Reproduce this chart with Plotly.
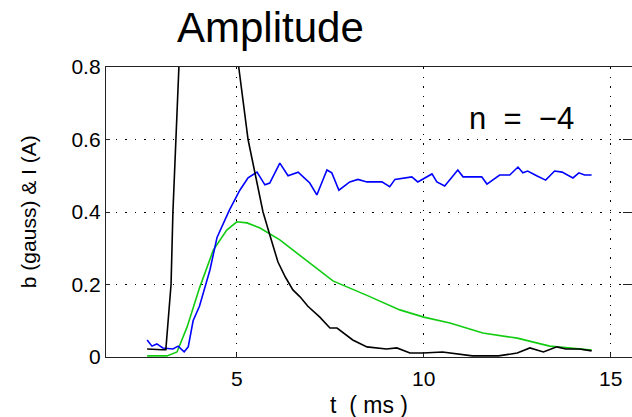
import plotly.graph_objects as go

# ---- data ----
black_t = [2.6, 2.8, 3.0, 3.1, 3.24, 3.29, 3.37, 3.45, 3.7, 4.2, 4.7, 5.05, 5.3, 5.48, 5.7,
           5.88, 6.1, 6.3, 6.5, 6.69, 6.9, 7.22, 7.49, 7.68, 8.1, 8.48, 9.0, 9.28, 9.63,
           9.98, 10.5, 11.3, 12.0, 12.5, 12.84, 13.2, 13.56, 13.8, 14.17, 14.49]
black_v = [0.022, 0.02, 0.02, 0.02, 0.2, 0.4, 0.6, 0.8, 1.2, 1.5, 1.2, 0.8, 0.6, 0.508, 0.4,
           0.337, 0.262, 0.22, 0.185, 0.166, 0.14, 0.11, 0.08, 0.08, 0.047, 0.028, 0.022, 0.025, 0.011,
           0.011, 0.014, 0.003, 0.003, 0.011, 0.025, 0.014, 0.028, 0.022, 0.022, 0.017]

blue_t = [2.6, 2.73, 2.86, 3.02, 3.29, 3.43, 3.59, 3.7, 3.83, 4.0, 4.28, 4.47, 4.8, 5.08,
          5.3, 5.54, 5.75, 5.88, 6.15, 6.37, 6.64, 6.95, 7.14, 7.41, 7.54, 7.73, 8.02, 8.24,
          8.48, 8.88, 9.09, 9.23, 9.68, 9.84, 10.22, 10.35, 10.56, 10.91, 11.05, 11.55, 11.69,
          12.03, 12.3, 12.52, 12.65, 12.78, 13.02, 13.26, 13.5, 13.7, 13.99, 14.15, 14.3, 14.49]
blue_v = [0.047, 0.030, 0.036, 0.025, 0.022, 0.030, 0.014, 0.028, 0.10, 0.14, 0.24, 0.33, 0.405, 0.46,
          0.494, 0.51, 0.475, 0.48, 0.535, 0.50, 0.51, 0.48, 0.447, 0.516, 0.508, 0.46, 0.483, 0.49,
          0.483, 0.483, 0.47, 0.49, 0.497, 0.483, 0.505, 0.483, 0.472, 0.516, 0.497, 0.497, 0.477,
          0.502, 0.502, 0.524, 0.508, 0.513, 0.5, 0.488, 0.513, 0.51, 0.494, 0.508, 0.502, 0.502]

green_t = [2.6, 3.13, 3.4, 3.67, 4.0, 4.37, 4.73, 5.0, 5.27, 5.62, 6.15, 6.69, 7.14, 7.57,
           8.48, 9.36, 10.0, 10.7, 11.58, 12.5, 13.37, 14.49]
green_v = [0.003, 0.003, 0.014, 0.083, 0.19, 0.295, 0.35, 0.373, 0.37, 0.356, 0.323, 0.28, 0.245, 0.21,
           0.17, 0.13, 0.11, 0.094, 0.066, 0.052, 0.030, 0.019]

x_ticks = [5, 10, 15]
y_ticks = [0, 0.2, 0.4, 0.6, 0.8]
y_tick_labels = ["0", "0.2", "0.4", "0.6", "0.8"]

FONT = "Liberation Sans, Arial, Helvetica, sans-serif"
NB = "\u00a0"

fig = go.Figure()
fig.add_trace(go.Scatter(x=green_t, y=green_v, mode="lines",
                         line=dict(color="#11cc11", width=1.6), showlegend=False))
fig.add_trace(go.Scatter(x=blue_t, y=blue_v, mode="lines",
                         line=dict(color="#0000ff", width=1.6), showlegend=False))
fig.add_trace(go.Scatter(x=black_t, y=black_v, mode="lines",
                         line=dict(color="#000000", width=1.6), showlegend=False))

fig.update_layout(
    width=632, height=417,
    margin=dict(l=106, r=0, t=67, b=60),
    paper_bgcolor="white", plot_bgcolor="white",
    font=dict(family=FONT, color="black", size=21),
    xaxis=dict(range=[1.5, 15.57], tickvals=x_ticks, ticktext=[str(v) for v in x_ticks],
               showgrid=True, gridcolor="black", griddash="1.5px,8px", gridwidth=1.2,
               showline=True, linecolor="#222", linewidth=1.3, mirror=True,
               ticks="inside", ticklen=4, tickcolor="#222",
               zeroline=False, tickfont=dict(size=21), ticklabelstandoff=3),
    yaxis=dict(range=[0, 0.8], tickvals=y_ticks, ticktext=y_tick_labels,
               showgrid=True, gridcolor="black", griddash="1.5px,8px", gridwidth=1.2,
               showline=True, linecolor="#222", linewidth=1.3, mirror=False,
               ticks="inside", ticklen=4, tickcolor="#222",
               zeroline=False, tickfont=dict(size=21)),
    yaxis2=dict(range=[0, 0.8], overlaying="y", side="right", tickvals=y_ticks,
                showticklabels=False, showgrid=False, showline=False, zeroline=False,
                ticks="inside", ticklen=9, tickcolor="#222"),
)
# dummy trace to activate yaxis2
fig.add_trace(go.Scatter(x=[None], y=[None], yaxis="y2", showlegend=False))

fig.add_annotation(text="Amplitude", xref="paper", yref="paper", x=0.312, y=1.135,
                   showarrow=False, font=dict(size=42, family=FONT, color="black"),
                   xanchor="center", yanchor="middle")
fig.add_annotation(text="b (gauss) & I (A)", xref="paper", yref="paper", x=-0.148, y=0.5,
                   textangle=-90, showarrow=False, font=dict(size=21, family=FONT, color="black"),
                   xanchor="center", yanchor="middle")
fig.add_annotation(text="t" + NB * 2 + "(" + NB + "ms" + NB + ")", xref="paper", yref="paper",
                   x=0.5, y=-0.166, showarrow=False,
                   font=dict(size=23, family=FONT, color="black"),
                   xanchor="center", yanchor="middle")
fig.add_annotation(text="n" + NB * 2 + "=" + NB * 2 + "\u22124", xref="paper", yref="paper",
                   x=0.789, y=0.824, showarrow=False,
                   font=dict(size=31, family=FONT, color="black"),
                   xanchor="center", yanchor="middle")

fig.write_html("out.html")
